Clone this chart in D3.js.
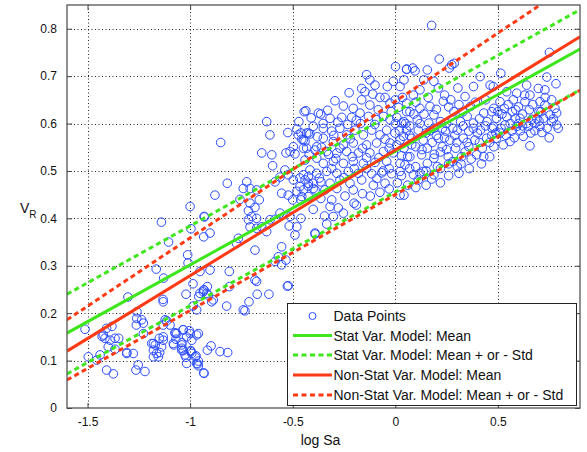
<!DOCTYPE html>
<html><head><meta charset="utf-8">
<script src="https://cdn.jsdelivr.net/npm/d3@7"></script>
<style>
html,body{margin:0;padding:0;background:#fff;}
svg{display:block;font-family:"Liberation Sans",Arial,Helvetica,sans-serif;}
</style></head>
<body><svg id="chart" width="587" height="452"></svg>
<script>
// ---- data ----
const xTicks = [-1.5, -1, -0.5, 0, 0.5];
const yTicks = [0, 0.1, 0.2, 0.3, 0.4, 0.5, 0.6, 0.7, 0.8];
const xTickLabels = ["-1.5", "-1", "-0.5", "0", "0.5"];
const yTickLabels = ["0", "0.1", "0.2", "0.3", "0.4", "0.5", "0.6", "0.7", "0.8"];

const lineX = [-1.6, 0.9];
const statMean = [0.158, 0.757];
const statUpper = [0.240, 0.840];
const statLower = [0.072, 0.671];
const nonStatMean = [0.120, 0.783];
const nonStatUpper = [0.186, 0.906];
const nonStatLower = [0.059, 0.670];

const legendLabels = ["Data Points", "Stat Var. Model: Mean", "Stat Var. Model: Mean + or - Std",
  "Non-Stat Var. Model: Mean", "Non-Stat Var. Model: Mean + or - Std"];

const pointsLow = [
[-1.512,0.166],[-1.496,0.108],[-1.439,0.112],[-1.455,0.101],[-1.407,0.08],[-1.374,0.072],[-1.407,0.168],[-1.423,0.154],
[-1.415,0.147],[-1.39,0.143],[-1.366,0.147],[-1.399,0.129],[-1.366,0.124],[-1.381,0.172],[-1.309,0.115],[-1.277,0.115],
[-1.264,0.08],[-1.22,0.077],[-1.253,0.091],[-1.26,0.189],[-1.236,0.186],[-1.228,0.179],[-1.262,0.175],[-1.228,0.157],
[-1.187,0.136],[-1.179,0.122],[-1.163,0.115],[-1.179,0.108],[-1.155,0.108],[-1.131,0.143],[-1.139,0.129],[-1.131,0.15],
[-1.122,0.186],[-1.098,0.175],[-1.131,0.175],[-1.131,0.224],[-1.082,0.136],[-1.065,0.157],[-1.041,0.122],[-1.025,0.112],
[-0.992,0.115],[-0.992,0.143],[-1.033,0.165],[-1.0,0.157],[-1.017,0.094],[-0.968,0.094],[-0.96,0.157],[-0.985,0.215],
[-1.303,0.234],[-1.259,0.203],[-1.0,0.425],[-1.14,0.392],[-0.93,0.403],[-1.105,0.35],[-1.012,0.323],[-0.996,0.378],
[-1.01,0.306],[-1.165,0.293],[-1.129,0.274],[-0.986,0.262],[-1.132,0.229],[-1.02,0.24],[-0.934,0.249],[-0.958,0.235],
[-1.148,0.117],[-1.17,0.133],[-1.072,0.157],[-1.035,0.165],[-1.04,0.138],[-1.08,0.133],[-1.04,0.126],[-0.996,0.119],
[-0.975,0.108],[-0.963,0.093],[-0.934,0.074],[-1.429,0.151],[-1.348,0.147],[-1.308,0.117],
[-0.952,0.242],[-0.936,0.245],[-0.916,0.256],[-0.911,0.238],[-0.895,0.224],[-0.968,0.207],[-0.809,0.256],[-0.822,0.215],
[-0.676,0.267],[-0.673,0.24],[-0.616,0.24],[-0.713,0.224],[-0.733,0.205],[-0.526,0.257],[-1.114,0.184],[-1.074,0.159],
[-1.004,0.163],[-0.968,0.154],[-1.017,0.15],[-1.069,0.145],[-1.041,0.133],[-1.033,0.121],[-0.997,0.121],[-1.02,0.107],
[-0.971,0.11],[-0.96,0.099],[-0.96,0.089],[-0.932,0.073],[-0.916,0.122],[-0.898,0.131],[-0.854,0.119],[-0.817,0.117],
[-1.15,0.147],[-1.179,0.136],[-0.934,0.361]
];
const pointsMid = [
[-0.444,0.625],[-0.375,0.622],[-0.627,0.604],[-0.611,0.576],[-0.851,0.56],[-0.524,0.581],[-0.48,0.588],[-0.473,0.576],
[-0.456,0.567],[-0.432,0.58],[-0.416,0.578],[-0.44,0.562],[-0.432,0.548],[-0.497,0.551],[-0.513,0.541],[-0.533,0.538],
[-0.489,0.536],[-0.383,0.551],[-0.651,0.538],[-0.602,0.534],[-0.598,0.511],[-0.562,0.487],[-0.538,0.502],[-0.522,0.492],
[-0.497,0.481],[-0.465,0.485],[-0.44,0.481],[-0.424,0.488],[-0.4,0.474],[-0.424,0.468],[-0.391,0.46],[-0.465,0.467],
[-0.48,0.457],[-0.456,0.446],[-0.5,0.439],[-0.522,0.449],[-0.554,0.453],[-0.586,0.477],[-0.819,0.474],[-0.879,0.449],
[-0.724,0.477],[-0.741,0.463],[-0.708,0.463],[-0.676,0.46],[-0.663,0.439],[-0.757,0.44],[-0.708,0.432],[-0.684,0.423],
[-0.716,0.416],[-0.7,0.404],[-0.676,0.4],[-0.716,0.397],[-0.708,0.382],[-0.676,0.379],[-0.651,0.382],[-0.627,0.372],
[-0.611,0.397],[-0.586,0.398],[-0.562,0.411],[-0.517,0.384],[-0.48,0.382],[-0.489,0.365],[-0.513,0.404],[-0.765,0.358],
[-0.774,0.347],[-0.684,0.333],[-0.554,0.34],[-0.57,0.319],[-0.533,0.312],[-0.554,0.302],[-0.586,0.309],[-0.391,0.367],
[-0.903,0.369],[-0.932,0.404],[-0.903,0.291],[-0.809,0.288],[-0.952,0.288],[-0.684,0.27],[-0.522,0.258],[-0.932,0.249],
[-0.919,0.242],[-0.887,0.228],[-0.741,0.207]
];
const pointsCenter = [
[0.001,0.72],[0.055,0.714],[-0.14,0.703],[-0.124,0.692],[-0.164,0.674],[-0.148,0.667],[-0.099,0.681],[-0.075,0.655],
[-0.039,0.678],[-0.01,0.689],[0.023,0.678],[-0.225,0.665],[-0.294,0.648],[-0.253,0.637],[-0.205,0.632],[-0.164,0.65],
[-0.124,0.639],[-0.083,0.629],[-0.026,0.643],[0.015,0.634],[0.055,0.625],[-0.363,0.62],[-0.436,0.627],[-0.318,0.611],
[-0.261,0.613],[-0.213,0.613],[-0.172,0.622],[-0.131,0.615],[-0.091,0.608],[-0.058,0.615],[-0.026,0.608],[0.007,0.613],
[0.031,0.601],[-0.46,0.58],[-0.424,0.58],[-0.448,0.566],[-0.4,0.594],[-0.351,0.59],[-0.31,0.584],[-0.27,0.59],
[-0.237,0.576],[-0.197,0.586],[-0.156,0.576],[-0.115,0.586],[-0.075,0.576],[-0.042,0.586],[-0.002,0.58],[0.039,0.573],
[-0.351,0.569],[-0.302,0.562],[-0.253,0.555],[-0.205,0.559],[-0.14,0.555],[-0.091,0.559],[-0.026,0.559],[0.007,0.555],
[-0.448,0.548],[-0.391,0.544],[-0.334,0.541],[-0.285,0.538],[-0.237,0.541],[-0.18,0.538],[-0.124,0.538],[-0.058,0.541],
[-0.01,0.538],[-0.44,0.523],[-0.383,0.527],[-0.351,0.516],[-0.302,0.52],[-0.253,0.516],[-0.205,0.52],[-0.156,0.516],
[-0.099,0.518],[-0.042,0.52],[0.023,0.516],[-0.416,0.502],[-0.448,0.492],[-0.383,0.495],[-0.334,0.499],[-0.285,0.495],
[-0.229,0.499],[-0.18,0.495],[-0.115,0.494],[-0.066,0.496],[-0.018,0.494],[0.023,0.499],[-0.424,0.474],[-0.363,0.477],
[-0.318,0.474],[-0.27,0.481],[-0.221,0.474],[-0.164,0.481],[-0.107,0.47],[-0.05,0.474],[-0.448,0.46],[-0.4,0.463],
[-0.343,0.46],[-0.285,0.463],[-0.205,0.46],[-0.424,0.446],[-0.363,0.442],[-0.31,0.439],[-0.278,0.422],[-0.318,0.425],
[-0.253,0.411],[-0.302,0.404],[-0.334,0.388],[-0.4,0.419],[-0.201,0.432],[-0.391,0.369],[-0.46,0.4],[-0.46,0.439],
[-0.16,0.452],[-0.122,0.447],[-0.075,0.455],[-0.03,0.462],[-0.245,0.447],[-0.19,0.428],[-0.345,0.405],[-0.232,0.598],
[-0.352,0.6],[-0.29,0.526],[-0.14,0.528],[-0.06,0.5],[-0.2,0.505],[-0.325,0.535]
];
const pointsRight = [
[0.177,0.807],[0.214,0.736],[0.055,0.715],[0.085,0.717],[0.096,0.711],[0.156,0.713],[0.275,0.724],[0.263,0.717],
[0.413,0.699],[0.042,0.692],[0.139,0.692],[0.188,0.689],[0.12,0.671],[0.088,0.66],[0.055,0.643],[0.381,0.678],
[0.462,0.681],[0.34,0.657],[0.234,0.647],[0.169,0.636],[0.12,0.632],[0.071,0.625],[0.188,0.618],[0.285,0.625],
[0.366,0.636],[0.431,0.622],[0.48,0.632],[0.042,0.604],[0.107,0.608],[0.163,0.601],[0.22,0.604],[0.318,0.604],
[0.381,0.601],[0.447,0.604],[0.055,0.586],[0.112,0.586],[0.188,0.59],[0.245,0.584],[0.302,0.586],[0.358,0.584],
[0.415,0.586],[0.472,0.59],[0.023,0.565],[0.08,0.569],[0.136,0.565],[0.209,0.569],[0.266,0.565],[0.331,0.569],
[0.388,0.565],[0.445,0.569],[0.042,0.548],[0.099,0.551],[0.156,0.548],[0.229,0.551],[0.294,0.548],[0.358,0.551],
[0.424,0.548],[0.48,0.551],[0.071,0.53],[0.128,0.534],[0.188,0.527],[0.258,0.53],[0.323,0.53],[0.396,0.534],
[0.431,0.53],[0.047,0.513],[0.099,0.509],[0.156,0.516],[0.205,0.509],[0.136,0.499],[0.088,0.492],[0.188,0.492],
[0.112,0.481],[0.302,0.509],[0.177,0.483],[0.042,0.449],[0.023,0.449],[0.12,0.495],[0.287,0.727],[0.24,0.66],
[0.305,0.675],[0.25,0.6],[0.35,0.615],[0.2,0.575],[0.3,0.56],[0.37,0.525],[0.26,0.515],[0.34,0.54],
[0.4,0.58],[0.15,0.58],[0.06,0.53],[0.22,0.54],[0.28,0.59],[0.41,0.61],[0.46,0.56],[0.0,0.6],
[0.751,0.75],[0.514,0.706],[0.738,0.698],[0.783,0.684],[0.64,0.681],[0.477,0.678],[0.697,0.674],[0.729,0.671],
[0.543,0.667],[0.592,0.664],[0.656,0.66],[0.762,0.65],[0.51,0.646],[0.575,0.65],[0.632,0.646],[0.705,0.646],
[0.729,0.639],[0.778,0.632],[0.531,0.632],[0.587,0.629],[0.653,0.629],[0.71,0.625],[0.47,0.625],[0.754,0.618],
[0.786,0.622],[0.493,0.611],[0.543,0.614],[0.608,0.611],[0.665,0.609],[0.722,0.611],[0.786,0.597],[0.794,0.59],
[0.762,0.604],[0.477,0.594],[0.534,0.597],[0.592,0.594],[0.648,0.594],[0.705,0.594],[0.51,0.58],[0.567,0.584],
[0.624,0.573],[0.714,0.581],[0.526,0.555],[0.559,0.562],[0.656,0.553],[0.493,0.569],[0.6,0.6],[0.68,0.585],
[0.62,0.62],[0.56,0.6],[0.75,0.57],[0.69,0.61],[0.515,0.59],[0.58,0.57],[0.64,0.6],[0.7,0.625]
];
const pointsDense = [
[-0.47,0.604],[-0.41,0.612],[-0.33,0.628],[-0.28,0.603],[-0.19,0.607],[-0.11,0.662],[-0.05,0.655],[0.035,0.655],
[-0.38,0.572],[-0.3,0.575],[-0.22,0.568],[-0.17,0.6],[-0.1,0.598],[-0.05,0.567],[0.02,0.585],[0.07,0.595],
[-0.42,0.535],[-0.36,0.55],[-0.27,0.548],[-0.21,0.53],[-0.16,0.548],[-0.08,0.528],[-0.03,0.548],[0.03,0.532],
[-0.37,0.485],[-0.31,0.505],[-0.25,0.486],[-0.14,0.505],[-0.09,0.484],[-0.03,0.505],[0.01,0.475],[0.06,0.47],
[0.1,0.465],[0.15,0.47],[0.22,0.475],[0.26,0.49],[0.31,0.495],[0.36,0.505],[0.42,0.515],[0.46,0.53],
[0.08,0.555],[0.13,0.545],[0.18,0.56],[0.24,0.57],[0.29,0.575],[0.35,0.56],[0.41,0.56],[0.47,0.575],
[0.07,0.575],[0.12,0.6],[0.17,0.585],[0.23,0.59],[0.33,0.595],[0.38,0.59],[0.44,0.595],[0.49,0.58],
[0.09,0.62],[0.14,0.62],[0.2,0.63],[0.26,0.635],[0.31,0.64],[0.39,0.645],[0.44,0.65],[0.5,0.625],
[0.55,0.64],[0.6,0.635],[0.67,0.64],[0.73,0.655],[0.77,0.61],[0.7,0.605],[0.66,0.58],[0.61,0.585],
[0.54,0.575],[0.585,0.61],[0.62,0.595],[0.68,0.6],[0.74,0.59],[0.52,0.62],[0.57,0.625],[0.63,0.66],
[-0.02,0.625],[0.0,0.65],[0.05,0.6],[0.1,0.645],[0.16,0.655],[0.21,0.675],[0.27,0.65],[0.33,0.625],
[0.03,0.49],[0.07,0.505],[0.15,0.5],[0.22,0.505],[0.28,0.52],[0.32,0.515],[0.19,0.535],[0.25,0.545]
];

// ---- layout ----
const svg = d3.select("#chart");
const L = 67, T = 5, R = 580, B = 408;
const x = d3.scaleLinear().domain([-1.6, 0.9]).range([L, R]);
const y = d3.scaleLinear().domain([0, 0.85]).range([B, T]);

svg.append("rect").attr("width", 587).attr("height", 452).attr("fill", "#fff");

// grid
const grid = svg.append("g").attr("stroke", "#000").attr("stroke-width", 1)
  .attr("stroke-dasharray", "1,2.5").attr("opacity", 0.85);
xTicks.forEach(v => grid.append("line").attr("x1", Math.round(x(v)) + 0.5).attr("x2", Math.round(x(v)) + 0.5)
  .attr("y1", T).attr("y2", B));
yTicks.slice(1).forEach(v => grid.append("line").attr("y1", Math.round(y(v)) + 0.5).attr("y2", Math.round(y(v)) + 0.5)
  .attr("x1", L).attr("x2", R));

svg.append("clipPath").attr("id", "clip").append("rect")
  .attr("x", L).attr("y", T).attr("width", R - L).attr("height", B - T);
const plot = svg.append("g").attr("clip-path", "url(#clip)");

// points
const allPts = pointsLow.concat(pointsMid, pointsCenter, pointsRight, pointsDense);
plot.append("g").selectAll("circle").data(allPts).join("circle")
  .attr("cx", d => x(d[0])).attr("cy", d => y(d[1])).attr("r", 4.3)
  .attr("fill", "none").attr("stroke", "#2a4cff").attr("stroke-width", 1);

// lines
const green = "#3ee61c", red = "#ff3a14";
const lineGen = d3.line().x(d => x(d[0])).y(d => y(d[1]));
const series = [
  {v: statUpper, c: green, dash: "5,3.5"},
  {v: statLower, c: green, dash: "5,3.5"},
  {v: statMean, c: green, dash: null},
  {v: nonStatUpper, c: red, dash: "5,3.5"},
  {v: nonStatLower, c: red, dash: "5,3.5"},
  {v: nonStatMean, c: red, dash: null}
];
series.forEach(s => {
  plot.append("path").datum(lineX.map((xv, i) => [xv, s.v[i]]))
    .attr("d", lineGen).attr("fill", "none").attr("stroke", s.c).attr("stroke-width", 3)
    .attr("stroke-dasharray", s.dash);
});

// axes frame
svg.append("rect").attr("x", L).attr("y", T).attr("width", R - L).attr("height", B - T)
  .attr("fill", "none").attr("stroke", "#555").attr("stroke-width", 1.3);

// axes with inward ticks
const xAxis = d3.axisBottom(x).tickValues(xTicks).tickFormat((d, i) => xTickLabels[i]).tickSizeInner(-5).tickSizeOuter(0).tickPadding(9);
const yAxis = d3.axisLeft(y).tickValues(yTicks).tickFormat((d, i) => yTickLabels[i]).tickSizeInner(-5).tickSizeOuter(0).tickPadding(10);
svg.append("g").attr("transform", `translate(0,${B})`).call(xAxis);
svg.append("g").attr("transform", `translate(${L},0)`).call(yAxis);
svg.append("g").attr("transform", `translate(0,${T})`).call(d3.axisTop(x).tickValues(xTicks).tickFormat("").tickSizeInner(-5).tickSizeOuter(0));
svg.append("g").attr("transform", `translate(${R},0)`).call(d3.axisRight(y).tickValues(yTicks).tickFormat("").tickSizeInner(-5).tickSizeOuter(0));
svg.selectAll(".domain").remove();
svg.selectAll(".tick line").attr("stroke", "#444");
svg.selectAll(".tick text").attr("font-size", 12).attr("fill", "#111")
  .attr("font-family", '"Liberation Sans",Arial,sans-serif');

// axis titles
svg.append("text").attr("x", (L + R) / 2 - 3).attr("y", 445).attr("text-anchor", "middle")
  .attr("font-size", 14).attr("fill", "#111").text("log Sa");
const yl = svg.append("text").attr("x", 20).attr("y", 213).attr("font-size", 14).attr("fill", "#111");
yl.append("tspan").text("V");
yl.append("tspan").attr("font-size", 10).attr("dy", 5).text("R");

// legend
const lg = svg.append("g");
lg.append("rect").attr("x", 287.5).attr("y", 303.5).attr("width", 289).attr("height", 102)
  .attr("fill", "#fff").attr("stroke", "#222").attr("stroke-width", 1);
const rowY = [316, 335.5, 355, 375, 395];
const legendStyle = [null, {c: green, d: null}, {c: green, d: "5,3.5"}, {c: red, d: null}, {c: red, d: "5,3.5"}];
legendLabels.forEach((t, i) => {
  if (i === 0) {
    lg.append("circle").attr("cx", 312.5).attr("cy", rowY[i]).attr("r", 3.5)
      .attr("fill", "none").attr("stroke", "#2a4cff").attr("stroke-width", 1);
  } else {
    lg.append("line").attr("x1", 293).attr("x2", 332).attr("y1", rowY[i]).attr("y2", rowY[i])
      .attr("stroke", legendStyle[i].c).attr("stroke-width", 3).attr("stroke-dasharray", legendStyle[i].d);
  }
  lg.append("text").attr("x", 333.5).attr("y", rowY[i] + 5).attr("font-size", 14).attr("fill", "#111").text(t);
});
</script></body></html>
